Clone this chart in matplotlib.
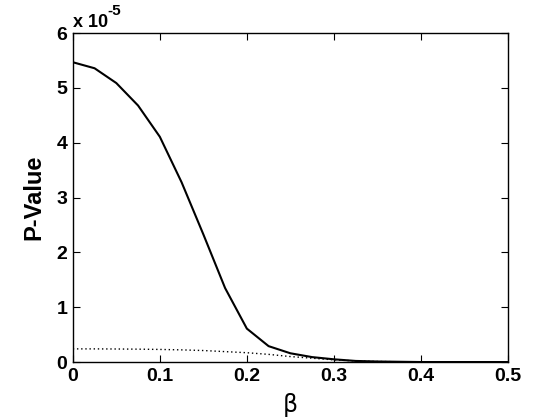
import matplotlib
matplotlib.use("Agg")
import matplotlib.pyplot as plt

beta = [0.0, 0.025, 0.05, 0.075, 0.1, 0.125, 0.15, 0.175, 0.2, 0.225, 0.25,
        0.275, 0.3, 0.325, 0.35, 0.375, 0.4, 0.425, 0.45, 0.475, 0.5]
p_solid = [5.47, 5.36, 5.09, 4.68, 4.11, 3.28, 2.33, 1.35, 0.61, 0.29, 0.16,
           0.09, 0.05, 0.02, 0.01, 0.005, 0.0, 0.0, 0.0, 0.0, 0.0]
p_dotted = [0.24, 0.24, 0.238, 0.235, 0.23, 0.222, 0.21, 0.19, 0.17, 0.14, 0.10,
            0.07, 0.04, 0.02, 0.01, 0.005, 0.0, 0.0, 0.0, 0.0, 0.0]
xticks = [0, 0.1, 0.2, 0.3, 0.4, 0.5]
xticklabels = ["0", "0.1", "0.2", "0.3", "0.4", "0.5"]
yticks = [0, 1, 2, 3, 4, 5, 6]
yticklabels = ["0", "1", "2", "3", "4", "5", "6"]

plt.rcParams['font.family'] = ['Liberation Sans', 'DejaVu Sans']
plt.rcParams['font.weight'] = 'bold'

W, H = 560, 420
fig = plt.figure(figsize=(5.6, 4.2), dpi=100)
ax = fig.add_axes([0.130, 0.138, 0.777, 0.783])

ax.plot(beta, p_solid, color='black', linewidth=1.5, solid_joinstyle='miter')
ax.plot(beta, p_dotted, color='black', linewidth=1.0, linestyle=(0, (1, 2)))

ax.set_xlim(0, 0.5)
ax.set_ylim(0, 6)
ax.set_xticks(xticks)
ax.set_xticklabels(xticklabels, fontsize=14, fontweight='bold')
ax.set_yticks(yticks)
ax.set_yticklabels(yticklabels, fontsize=14, fontweight='bold')
ax.tick_params(direction='in', length=5, width=0.8, top=True, right=True, pad=4)
for s in ax.spines.values():
    s.set_linewidth(1.0)

ax.set_xlabel('β', fontsize=17, fontweight='normal', labelpad=6,
              family=['DejaVu Sans'])
ax.set_ylabel('P-Value', fontsize=17, fontweight='bold', labelpad=8)

fig.text(73 / W, 1 - 27 / H, 'x 10', fontsize=13, fontweight='bold',
         ha='left', va='baseline')
fig.text(107 / W, 1 - 15 / H, '-5', fontsize=11, fontweight='bold',
         ha='left', va='baseline')

fig.savefig('out.png', dpi=100)
